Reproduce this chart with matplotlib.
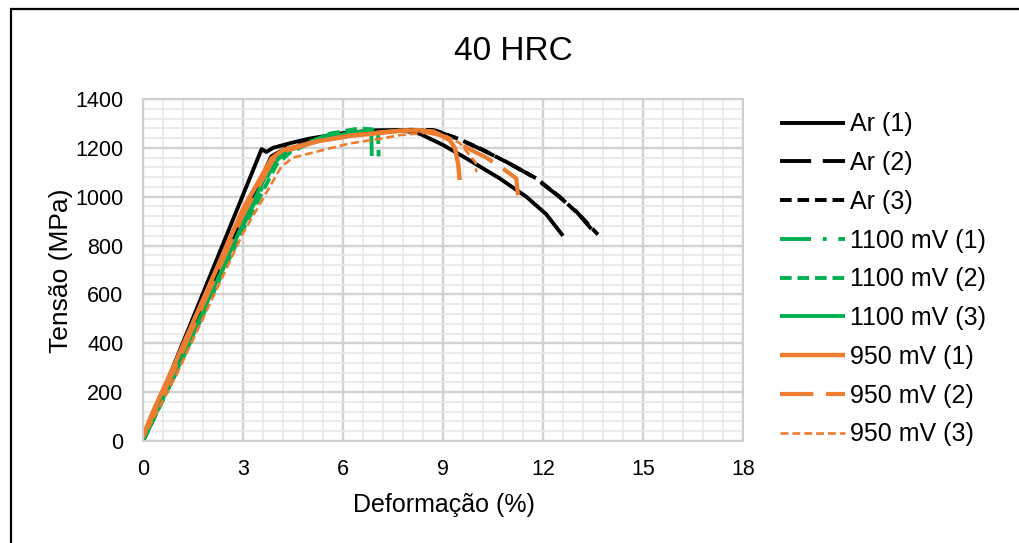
import matplotlib
matplotlib.use("Agg")
import matplotlib.pyplot as plt
from matplotlib.ticker import MultipleLocator
from matplotlib.patches import Rectangle

plt.rcParams['font.family'] = ['Liberation Sans', 'DejaVu Sans']

# Stress-strain curves (strain %, stress MPa)
ar1_x = [0, 3.56, 3.7, 3.9, 4.5, 5.0, 6.0, 7.0, 7.7, 8.3, 9.0, 9.7, 10.7, 11.5, 12.1, 12.6]
ar1_y = [0, 1195, 1183, 1200, 1222, 1238, 1260, 1272, 1273, 1258, 1212, 1157, 1075, 1000, 928, 840]

ar2_x = [0, 1.0, 2.0, 3.0, 3.85, 4.3, 5.0, 6.0, 7.0, 8.0, 8.7, 9.4, 10.1, 10.9, 11.7, 12.4, 13.0, 13.45]
ar2_y = [0, 300, 610, 915, 1165, 1200, 1225, 1250, 1265, 1274, 1273, 1240, 1197, 1143, 1082, 1010, 940, 868]

ar3_x = [0, 1.0, 2.0, 3.0, 3.9, 4.4, 5.0, 6.0, 7.0, 8.0, 8.8, 9.5, 10.2, 11.0, 11.8, 12.5, 13.1, 13.65]
ar3_y = [0, 290, 590, 890, 1155, 1195, 1222, 1248, 1263, 1272, 1270, 1235, 1192, 1135, 1075, 1000, 925, 845]

mv1100_1_x = [0, 1.0, 2.0, 3.0, 3.95, 4.3, 5.0, 5.6, 6.2, 6.85, 6.87]
mv1100_1_y = [0, 285, 585, 880, 1140, 1185, 1225, 1255, 1270, 1276, 1125]

mv1100_2_x = [0, 1.0, 2.0, 3.0, 4.0, 4.4, 5.0, 5.6, 6.5, 7.05, 7.07]
mv1100_2_y = [0, 280, 575, 865, 1130, 1180, 1220, 1258, 1280, 1272, 1165]

mv1100_3_x = [0, 1.0, 2.0, 3.0, 3.9, 4.3, 5.0, 6.0, 6.7, 6.9]
mv1100_3_y = [0, 290, 590, 890, 1148, 1185, 1222, 1255, 1270, 1272]

mv950_1_x = [0, 0.3, 1.0, 2.0, 3.0, 3.86, 4.2, 5.2, 6.2, 7.2, 7.7, 8.3, 8.9, 9.2, 9.36, 9.46, 9.5]
mv950_1_y = [20, 120, 330, 640, 950, 1157, 1191, 1226, 1249, 1262, 1270, 1272, 1253, 1232, 1199, 1130, 1068]

mv950_2_x = [0, 1.0, 2.0, 3.0, 3.9, 4.3, 5.2, 6.2, 7.2, 8.0, 8.7, 9.5, 10.3, 10.8, 11.2, 11.25]
mv950_2_y = [20, 310, 620, 925, 1150, 1188, 1225, 1250, 1265, 1272, 1268, 1215, 1160, 1115, 1075, 1005]

mv950_3_x = [0, 1.0, 2.0, 3.0, 4.15, 4.5, 5.2, 6.2, 7.2, 7.7, 8.5, 9.0, 9.5, 9.98, 10.0]
mv950_3_y = [10, 270, 560, 850, 1123, 1160, 1184, 1218, 1239, 1252, 1262, 1255, 1220, 1140, 1100]

labels = ["Ar (1)", "Ar (2)", "Ar (3)", "1100 mV (1)", "1100 mV (2)", "1100 mV (3)",
          "950 mV (1)", "950 mV (2)", "950 mV (3)"]

x_ticks = [0, 3, 6, 9, 12, 15, 18]
y_ticks = [0, 200, 400, 600, 800, 1000, 1200, 1400]

BLACK = "#000000"
GREEN = "#00B050"
ORANGE = "#ED7D31"

series = [
    (ar1_x, ar1_y, BLACK, 2.8, None),
    (ar2_x, ar2_y, BLACK, 2.8, (8, 3)),
    (ar3_x, ar3_y, BLACK, 2.8, (3, 1.5)),
    (mv1100_1_x, mv1100_1_y, GREEN, 2.8, (8, 3, 1, 3)),
    (mv1100_2_x, mv1100_2_y, GREEN, 2.8, (3, 1.5)),
    (mv1100_3_x, mv1100_3_y, GREEN, 2.8, None),
    (mv950_1_x, mv950_1_y, ORANGE, 3.2, None),
    (mv950_2_x, mv950_2_y, ORANGE, 3.0, (8, 3)),
    (mv950_3_x, mv950_3_y, ORANGE, 1.9, (3, 1.5)),
]

fig = plt.figure(figsize=(10.19, 5.43), dpi=100)
ax = fig.add_axes([0.1403, 0.1878, 0.5888, 0.6299])

for (xs, ys, color, lw, dash), label in zip(series, labels):
    line, = ax.plot(xs, ys, color=color, lw=lw, label=label,
                    solid_capstyle="butt", dash_capstyle="butt")
    if dash is not None:
        line.set_dashes(dash)

ax.set_xlim(0, 18)
ax.set_ylim(0, 1400)
ax.set_xticks(x_ticks)
ax.set_yticks(y_ticks)
ax.xaxis.set_minor_locator(MultipleLocator(0.6))
ax.yaxis.set_minor_locator(MultipleLocator(40))
ax.grid(which="minor", color="#e8e8e8", lw=1.2, zorder=0)
ax.grid(which="major", color="#d2d2d2", lw=1.7, zorder=0)
ax.set_axisbelow(True)
for side in ["left", "bottom", "top", "right"]:
    ax.spines[side].set_color("#cfcfcf")
    ax.spines[side].set_linewidth(1.5)
ax.tick_params(which="both", length=0, labelsize=15.5, colors="#000000")
ax.tick_params(axis="y", pad=14)
ax.tick_params(axis="x", pad=13)

fig.text(0.5035, 0.905, "40 HRC", ha="center", va="center", fontsize=24)
fig.text(0.4360, 0.070, "Deformação (%)", ha="center", va="center", fontsize=18)
fig.text(0.060, 0.502, "Tensão (MPa)", ha="center", va="center", fontsize=19,
         rotation=90)

leg = fig.legend(loc="upper left", bbox_to_anchor=(0.7655, 0.793), frameon=False,
                 fontsize=18, handlelength=2.6, handletextpad=0.2,
                 labelspacing=0.59, borderaxespad=0, borderpad=0)

fig.add_artist(Rectangle((11 / 1019, -0.1), 1.2, 1.1 - 9 / 543,
                         transform=fig.transFigure, fill=False,
                         edgecolor="#000000", lw=1.6))

fig.savefig("out.png", dpi=100)
